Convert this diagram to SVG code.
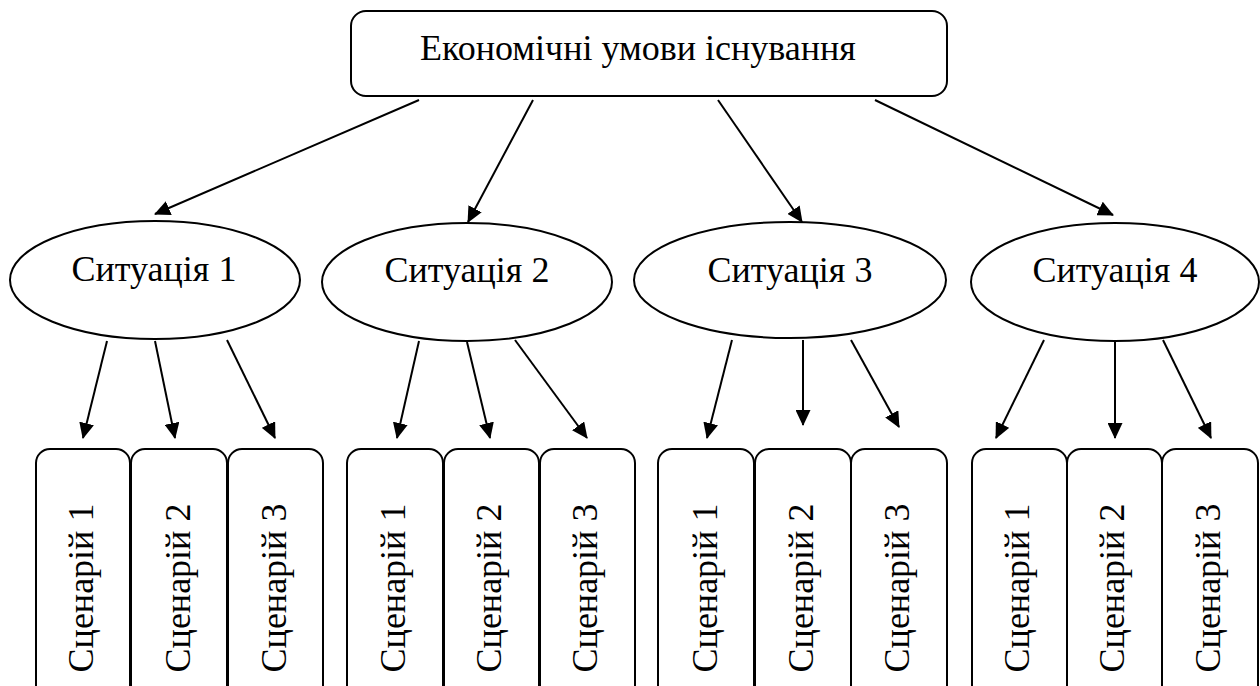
<svg xmlns="http://www.w3.org/2000/svg" width="1260" height="686" viewBox="0 0 1260 686">
<style>
.shape{fill:#fff;stroke:#000;stroke-width:2}
.lbl{font-family:"Liberation Serif","Times New Roman",serif;font-size:36px;fill:#000}
.c{text-anchor:middle}
.conn line{stroke:#000;stroke-width:2;marker-end:url(#ah)}
</style>
<defs>
<marker id="ah" markerUnits="userSpaceOnUse" markerWidth="16" markerHeight="15" refX="15" refY="7.5" orient="auto">
<path d="M0,0 L16,7.5 L0,15 z" fill="#000"/>
</marker>
</defs>
<rect width="1260" height="686" fill="#fff"/>
<g id="root">
<rect class="shape" x="351" y="11" width="596" height="85" rx="15"/>
<text class="lbl c" x="638" y="60">Економічні умови існування</text>
</g>
<g id="sit1"><ellipse class="shape" cx="155" cy="280" rx="145" ry="59"/><text class="lbl c" x="154" y="281">Ситуація 1</text></g>
<g id="sit2"><ellipse class="shape" cx="467" cy="282" rx="145" ry="59"/><text class="lbl c" x="467" y="282">Ситуація 2</text></g>
<g id="sit3"><ellipse class="shape" cx="790" cy="280" rx="156" ry="58"/><text class="lbl c" x="790" y="282">Ситуація 3</text></g>
<g id="sit4"><ellipse class="shape" cx="1115" cy="282" rx="144" ry="59"/><text class="lbl c" x="1115" y="282">Ситуація 4</text></g>
<g id="s1-1"><rect class="shape" x="36" y="449" width="94" height="260" rx="14"/><text class="lbl c" transform="translate(93,588) rotate(-90)">Сценарій 1</text></g>
<g id="s1-2"><rect class="shape" x="131" y="449" width="96" height="260" rx="14"/><text class="lbl c" transform="translate(190,588) rotate(-90)">Сценарій 2</text></g>
<g id="s1-3"><rect class="shape" x="228" y="449" width="95" height="260" rx="14"/><text class="lbl c" transform="translate(286,588) rotate(-90)">Сценарій 3</text></g>
<g id="s2-1"><rect class="shape" x="347" y="449" width="96" height="260" rx="14"/><text class="lbl c" transform="translate(405,588) rotate(-90)">Сценарій 1</text></g>
<g id="s2-2"><rect class="shape" x="444" y="449" width="95" height="260" rx="14"/><text class="lbl c" transform="translate(501,588) rotate(-90)">Сценарій 2</text></g>
<g id="s2-3"><rect class="shape" x="540" y="449" width="95" height="260" rx="14"/><text class="lbl c" transform="translate(597,588) rotate(-90)">Сценарій 3</text></g>
<g id="s3-1"><rect class="shape" x="658" y="449" width="96" height="260" rx="14"/><text class="lbl c" transform="translate(717,588) rotate(-90)">Сценарій 1</text></g>
<g id="s3-2"><rect class="shape" x="755" y="449" width="96" height="260" rx="14"/><text class="lbl c" transform="translate(813,588) rotate(-90)">Сценарій 2</text></g>
<g id="s3-3"><rect class="shape" x="851" y="449" width="96" height="260" rx="14"/><text class="lbl c" transform="translate(909,588) rotate(-90)">Сценарій 3</text></g>
<g id="s4-1"><rect class="shape" x="972" y="449" width="95" height="260" rx="14"/><text class="lbl c" transform="translate(1029,588) rotate(-90)">Сценарій 1</text></g>
<g id="s4-2"><rect class="shape" x="1067" y="449" width="95" height="260" rx="14"/><text class="lbl c" transform="translate(1124,588) rotate(-90)">Сценарій 2</text></g>
<g id="s4-3"><rect class="shape" x="1162" y="449" width="96" height="260" rx="14"/><text class="lbl c" transform="translate(1220,588) rotate(-90)">Сценарій 3</text></g>
<g id="connectors" class="conn">
<line x1="419" y1="100" x2="155" y2="214"/>
<line x1="533" y1="100" x2="468" y2="222"/>
<line x1="718" y1="100" x2="802" y2="222"/>
<line x1="875" y1="100" x2="1113" y2="215"/>
<line x1="107" y1="341" x2="83" y2="438"/>
<line x1="155" y1="341" x2="175" y2="438"/>
<line x1="227" y1="340" x2="275" y2="438"/>
<line x1="419" y1="341" x2="397" y2="438"/>
<line x1="467" y1="342" x2="490" y2="438"/>
<line x1="515" y1="340" x2="587" y2="438"/>
<line x1="732" y1="340" x2="707" y2="438"/>
<line x1="803" y1="340" x2="803" y2="425"/>
<line x1="851" y1="340" x2="899" y2="427"/>
<line x1="1044" y1="340" x2="996" y2="438"/>
<line x1="1115" y1="340" x2="1115" y2="438"/>
<line x1="1163" y1="340" x2="1211" y2="438"/>
</g>
</svg>
